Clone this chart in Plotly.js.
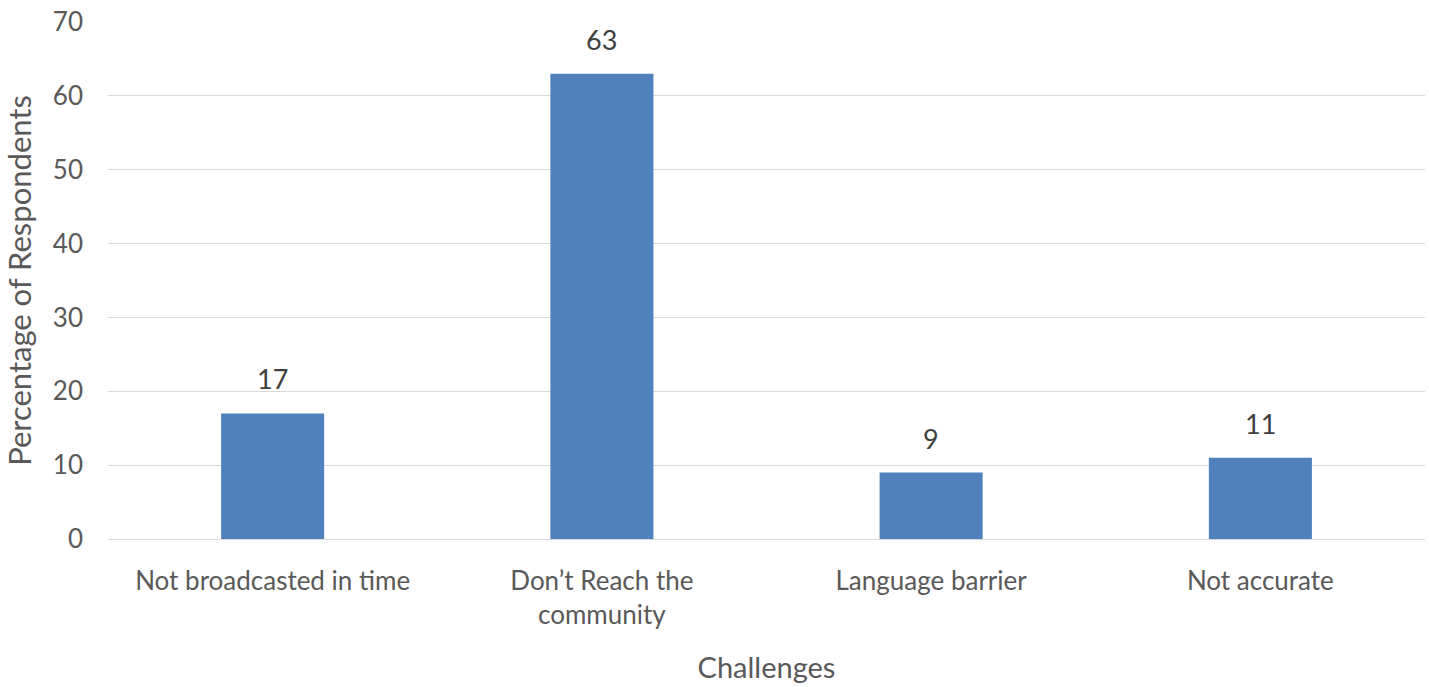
<!DOCTYPE html>
<html>
<head>
<meta charset="utf-8">
<script src="https://cdn.plot.ly/plotly-3.0.1.min.js"></script>
<style>html,body{margin:0;padding:0;background:#fff;}#chart{width:1429px;height:687px;}</style>
</head>
<body>
<div id="chart"></div>
<script>
const categories = ["Not broadcasted in time", "Don’t Reach the<br>community", "Language barrier", "Not accurate"];
const values = [17, 63, 9, 11];
const yTicks = [0, 10, 20, 30, 40, 50, 60, 70];

const FONT = "Lato, 'Open Sans', sans-serif";
const GREY = "#595959";

const trace = {
  type: "bar",
  x: categories,
  y: values,
  marker: {color: "#4F81BD"},
  hoverinfo: "x+y"
};

const annotations = categories.map((c, i) => ({
  x: c, y: values[i], xref: "x", yref: "y",
  text: String(values[i]), showarrow: false,
  yanchor: "bottom", yshift: 16,
  font: {family: FONT, size: 27, color: "#404040"}
}));

const layout = {
  width: 1429, height: 687,
  margin: {l: 108, r: 4, t: 22, b: 148},
  paper_bgcolor: "#fff", plot_bgcolor: "#fff",
  bargap: 0.687,
  showlegend: false,
  font: {family: FONT, size: 26, color: GREY},
  xaxis: {
    type: "category",
    showgrid: false, zeroline: false,
    showline: true, linecolor: "#D9D9D9", linewidth: 1,
    ticks: "", ticklabelstandoff: 19,
    tickfont: {family: FONT, size: 26, color: GREY},
    title: {text: "Challenges", font: {family: FONT, size: 29, color: GREY}, standoff: 28}
  },
  yaxis: {
    range: [0, 70], tickvals: yTicks,
    showgrid: true, gridcolor: "#D9D9D9", gridwidth: 1,
    zeroline: false, showline: false, ticks: "",
    ticklabelstandoff: 24,
    tickfont: {family: FONT, size: 26, color: GREY},
    title: {text: "Percentage of Respondents", font: {family: FONT, size: 31, color: GREY}, standoff: 13}
  },
  annotations: annotations
};

Plotly.newPlot("chart", [trace], layout, {displayModeBar: false, staticPlot: true});
</script>
</body>
</html>
